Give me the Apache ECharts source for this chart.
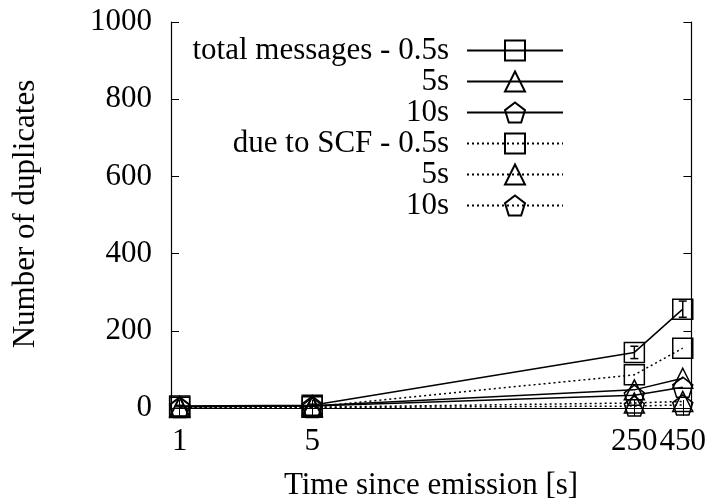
<!DOCTYPE html>
<html>
<head>
<meta charset="utf-8">
<script src="https://cdn.jsdelivr.net/npm/echarts@6/dist/echarts.min.js"></script>
<style>
html,body{margin:0;padding:0;background:#fff;}
#chart{width:709px;height:502px;}
</style>
</head>
<body>
<div id="chart"></div>
<script>
// ---- data ----
const xValues = [1, 5, 250, 450];
const xTickLabels = [1, 5, 250, 450];
const total05 = [5, 7, 144, 256];
const total05Err = [2, 3, 16, 21];
const total5 = [4, 6, 47, 77];
const total10 = [3, 5, 33, 54];
const scf05 = [2, 3, 86, 155];
const scf5 = [1, 2, 13, 17];
const scf10 = [1, 1, 5, 8];
const seriesNames = ['total 0.5s', 'total 5s', 'total 10s', 'scf 0.5s', 'scf 5s', 'scf 10s'];
const legendLabels = ['total messages - 0.5s', '5s', '10s', 'due to SCF - 0.5s', '5s', '10s'];

const FONT = '"Liberation Serif","Times New Roman",serif';
const pentagon = 'path://M0,-1 L0.951,-0.309 L0.588,0.809 L-0.588,0.809 L-0.951,-0.309 Z';

function pairs(ys) { return xValues.map((x, i) => [x, ys[i]]); }

function lineSeries(name, ys, symbol, dotted) {
  return {
    name: name,
    type: 'line',
    data: pairs(ys),
    symbol: symbol,
    symbolSize: 20,
    showAllSymbol: true,
    lineStyle: {color: '#000', width: 1.5, type: dotted ? [2, 3] : 'solid'},
    itemStyle: {color: 'rgba(0,0,0,0)', borderColor: '#000', borderWidth: 1.5},
    emphasis: {disabled: true},
    animation: false,
    z: 3
  };
}

const chart = echarts.init(document.getElementById('chart'), null, {renderer: 'canvas'});

const option = {
  animation: false,
  grid: {left: 171, right: 16, top: 22, bottom: 94, containLabel: false},
  xAxis: [{
    type: 'log', logBase: 10, min: 0.9, max: 500,
    position: 'bottom',
    axisLine: {show: true, lineStyle: {color: '#000', width: 1.2}},
    axisTick: {show: true, inside: true, length: 8, customValues: xTickLabels, lineStyle: {color: '#000'}},
    minorTick: {show: false},
    axisLabel: {show: true, customValues: xTickLabels, margin: 18, hideOverlap: false, showMinLabel: true, showMaxLabel: true,
      fontFamily: FONT, fontSize: 31, color: '#000', formatter: v => String(v)},
    splitLine: {show: false}
  }, {
    type: 'log', logBase: 10, min: 0.9, max: 500,
    position: 'top',
    axisLine: {show: true, lineStyle: {color: '#000', width: 1.2}},
    axisTick: {show: true, inside: true, length: 8, customValues: xTickLabels, lineStyle: {color: '#000'}},
    axisLabel: {show: false},
    splitLine: {show: false}
  }],
  yAxis: [{
    type: 'value', min: 0, max: 1000, interval: 200,
    position: 'left',
    axisLine: {show: true, lineStyle: {color: '#000', width: 1.2}},
    axisTick: {show: true, inside: true, length: 8, lineStyle: {color: '#000'}},
    axisLabel: {margin: 19, fontFamily: FONT, fontSize: 31, color: '#000', formatter: v => String(v)},
    splitLine: {show: false}
  }, {
    type: 'value', min: 0, max: 1000, interval: 200,
    position: 'right',
    axisLine: {show: true, lineStyle: {color: '#000', width: 1.2}},
    axisTick: {show: true, inside: true, length: 8, lineStyle: {color: '#000'}},
    axisLabel: {show: false},
    splitLine: {show: false}
  }],
  legend: {
    data: seriesNames,
    orient: 'vertical',
    align: 'right',
    right: 140,
    top: 30,
    itemWidth: 96,
    itemHeight: 25,
    itemGap: 0,
    selectedMode: false,
    formatter: name => legendLabels[seriesNames.indexOf(name)],
    textStyle: {fontFamily: FONT, fontSize: 31, color: '#000', lineHeight: 29, padding: [0, 13, 0, 0]}
  },
  graphic: [
    {type: 'text', x: 431, y: 486, style: {text: 'Time since emission [s]', font: '31px ' + FONT, fill: '#000', align: 'center', verticalAlign: 'middle'}},
    {type: 'text', x: 26, y: 214, rotation: Math.PI / 2, style: {text: 'Number of duplicates', font: '31px ' + FONT, fill: '#000', align: 'center', verticalAlign: 'middle'}}
  ],
  series: [
    lineSeries(seriesNames[0], total05, 'rect', false),
    lineSeries(seriesNames[1], total5, 'triangle', false),
    lineSeries(seriesNames[2], total10, pentagon, false),
    lineSeries(seriesNames[3], scf05, 'rect', true),
    lineSeries(seriesNames[4], scf5, 'triangle', true),
    lineSeries(seriesNames[5], scf10, pentagon, true),
    {
      type: 'custom',
      name: 'err',
      data: xValues.map((x, i) => [x, total05[i] - total05Err[i], total05[i] + total05Err[i]]),
      renderItem: function (params, api) {
        const lo = api.coord([api.value(0), api.value(1)]);
        const hi = api.coord([api.value(0), api.value(2)]);
        const w = 4;
        const st = {stroke: '#000', lineWidth: 1.5};
        return {type: 'group', children: [
          {type: 'line', shape: {x1: lo[0], y1: lo[1], x2: hi[0], y2: hi[1]}, style: st},
          {type: 'line', shape: {x1: lo[0] - w, y1: lo[1], x2: lo[0] + w, y2: lo[1]}, style: st},
          {type: 'line', shape: {x1: hi[0] - w, y1: hi[1], x2: hi[0] + w, y2: hi[1]}, style: st}
        ]};
      },
      silent: true,
      z: 4
    }
  ]
};
chart.setOption(option);
</script>
</body>
</html>
